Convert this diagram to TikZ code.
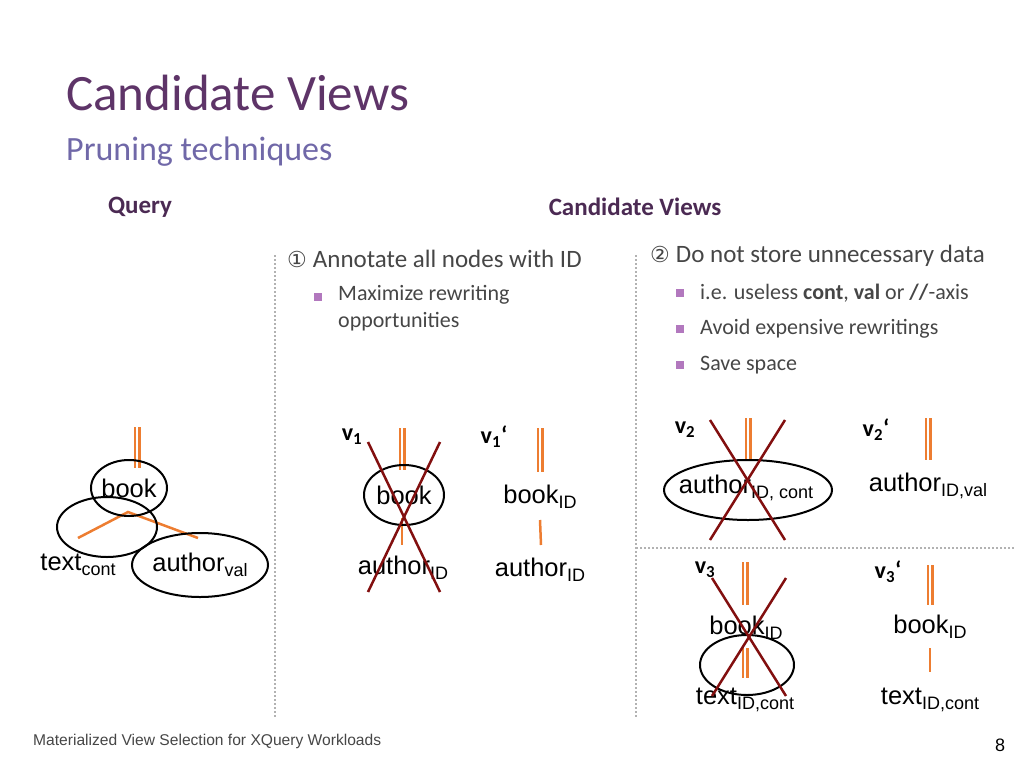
\documentclass[tikz,border=0pt]{standalone}
\usepackage{fontspec}
\setmainfont{Carlito}
\newfontfamily\arial{Liberation Sans}
\newfontfamily\dejavu{DejaVu Sans}
\usetikzlibrary{positioning}
\definecolor{titlepurple}{RGB}{94,52,104}
\definecolor{subpurple}{RGB}{112,104,168}
\definecolor{bulletpurple}{RGB}{178,120,190}
\definecolor{bodygray}{RGB}{70,70,70}
\definecolor{edgeorange}{RGB}{237,125,49}
\definecolor{crossred}{RGB}{130,15,15}
\newcommand{\annot}[1]{\raisebox{-0.35ex}{\fontsize{18}{19}\selectfont #1}}

\begin{document}
\begin{tikzpicture}[x=1pt,y=-1pt,
	treelbl/.style={font=\arial\fontsize{25.5}{27}\selectfont, inner sep=0pt},
	viewlbl/.style={font=\bfseries\fontsize{24}{26}\selectfont, inner sep=0pt},
	bodytxt/.style={font=\fontsize{22}{27}\selectfont, text=bodygray, anchor=west, inner sep=0pt, align=left},
	headtxt/.style={font=\fontsize{25}{28}\selectfont, text=bodygray, anchor=west, inner sep=0pt},
	bul/.style={fill=bulletpurple, minimum size=8pt, inner sep=0pt},
	ell/.style={draw=black, line width=2pt},
	dbl/.style={draw=edgeorange, line width=2.5pt, double=white, double distance=2pt},
	sgl/.style={draw=edgeorange, line width=2.5pt},
	xmark/.style={draw=crossred, line width=2.5pt},
	sep/.style={draw=gray!60, line width=2pt, dash pattern=on 2pt off 2pt}]
	\useasboundingbox (0,0) rectangle (1024,768);

	% Title
	\node [anchor=west, inner sep=0pt, text=titlepurple, font=\fontsize{51}{54}\selectfont] (title) at (66,93) {Candidate Views};
	\node [anchor=west, inner sep=0pt, text=subpurple, font=\fontsize{34}{36}\selectfont] (subtitle) at (66,152) {Pruning techniques};
	\node [inner sep=0pt, font=\bfseries\fontsize{25}{28}\selectfont, text=titlepurple!80!black] (query) at (140,207) {Query};
	\node [inner sep=0pt, font=\bfseries\fontsize{25}{28}\selectfont, text=titlepurple!80!black] (cands) at (635,207) {Candidate Views};

	% Separators
	\draw [sep] (275,255) -- (275,718);
	\draw [sep] (636,255) -- (636,718);
	\draw [sep] (636,548) -- (1015,548);

	% Bullet texts
	\node [headtxt] (h1) at (287,259) {{\dejavu\fontsize{22}{24}\selectfont ①}\hspace{6pt}Annotate all nodes with ID};
	\node [bul] (b11) at (318,297) {};
	\node [bodytxt, anchor=north west] (t11) at (338,285) {Maximize rewriting\\opportunities};
	\node [headtxt] (h2) at (650,256) {{\dejavu\fontsize{22}{24}\selectfont ②}\hspace{6pt}Do not store unnecessary data};
	\node [bul] (b21) at (680,293) {};
	\node [bodytxt] (t21) at (700,293) {i.e. useless \textbf{cont}, \textbf{val} or \textbf{//}-axis};
	\node [bul] (b22) at (680,329) {};
	\node [bodytxt] (t22) at (700,329) {Avoid expensive rewritings};
	\node [bul] (b23) at (680,365) {};
	\node [bodytxt] (t23) at (700,365) {Save space};

	% Query tree
	\coordinate (qtop) at (137,427);
	\node [treelbl] (qbook) at (129,488) {book};
	\node [treelbl] (qtext) at (78,565) {text\annot{cont}};
	\node [treelbl] (qauth) at (200,565) {author\annot{val}};
	\coordinate (qpeak) at (128,512);
	\coordinate (qleft) at (78,538);
	\coordinate (qright) at (198,538);
	\draw [dbl] (qtop) -- (137,468);
	\draw [sgl] (qleft) -- (qpeak) -- (qright);
	\draw [ell] (qbook) ellipse (38 and 28);
	\draw [ell] (107,527) ellipse (50 and 30);
	\draw [ell] (qauth) ellipse (68 and 32);

	% v1
	\node [viewlbl] (v1) at (352,437) {v\textsubscript{1}};
	\node [treelbl] (v1book) at (404,495) {book};
	\node [treelbl] (v1auth) at (403,568) {author\annot{ID}};
	\draw [dbl] (402,428) -- (402,470);
	\draw [sgl] (402,518) -- (402,545);
	\draw [ell] (v1book) ellipse (40 and 30);
	\draw [xmark] (368,442) -- (440,592);
	\draw [xmark] (440,442) -- (368,592);

	% v1'
	\node [viewlbl] (v1p) at (494,437) {v\textsubscript{1}‘};
	\node [treelbl] (v1pbook) at (540,497) {book\annot{ID}};
	\node [treelbl] (v1pauth) at (540,570) {author\annot{ID}};
	\draw [dbl] (540,428) -- (540,472);
	\draw [sgl] (540,520) -- (541,545);

	% v2
	\node [viewlbl] (v2) at (685,430) {v\textsubscript{2}};
	\node [treelbl] (v2auth) at (746,488) {author\annot{ID, cont}};
	\draw [dbl] (748,418) -- (748,460);
	\draw [ell] (748,490) ellipse (84 and 30);
	\draw [xmark] (710,420) -- (785,540);
	\draw [xmark] (785,420) -- (710,540);

	% v2'
	\node [viewlbl] (v2p) at (876,430) {v\textsubscript{2}‘};
	\node [treelbl] (v2pauth) at (928,486) {author\annot{ID,val}};
	\draw [dbl] (928,418) -- (928,460);

	% v3
	\node [viewlbl] (v3) at (705,570) {v\textsubscript{3}};
	\node [treelbl] (v3book) at (746,628) {book\annot{ID}};
	\node [treelbl] (v3text) at (745,700) {text\annot{ID,cont}};
	\draw [dbl] (745,562) -- (745,605);
	\draw [dbl] (745,648) -- (745,678);
	\draw [ell] (747,665) ellipse (47 and 30);
	\draw [xmark] (712,578) -- (786,696);
	\draw [xmark] (786,578) -- (712,696);

	% v3'
	\node [viewlbl] (v3p) at (888,572) {v\textsubscript{3}‘};
	\node [treelbl] (v3pbook) at (930,627) {book\annot{ID}};
	\node [treelbl] (v3ptext) at (930,700) {text\annot{ID,cont}};
	\draw [dbl] (930,565) -- (930,605);
	\draw [sgl] (930,648) -- (930,672);

	% Footer
	\node [anchor=west, inner sep=0pt, font=\arial\fontsize{15.6}{17}\selectfont, text=bodygray] (foot) at (33,741) {Materialized View Selection for XQuery Workloads};
	\node [inner sep=0pt, font=\arial\fontsize{18}{20}\selectfont] (page) at (1000,745) {8};
\end{tikzpicture}
\end{document}
